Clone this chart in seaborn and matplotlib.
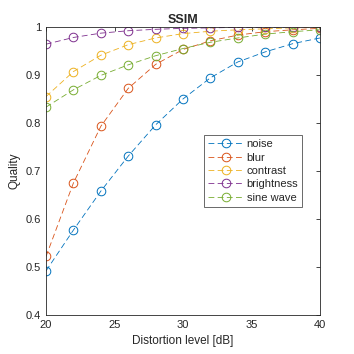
import numpy as np
import pandas as pd
import seaborn as sns
import matplotlib.pyplot as plt

levels = [20, 22, 24, 26, 28, 30, 32, 34, 36, 38, 40]
noise = [0.492, 0.577, 0.658, 0.731, 0.796, 0.850, 0.894, 0.927, 0.948, 0.965, 0.977]
blur = [0.522, 0.675, 0.793, 0.872, 0.922, 0.953, 0.971, 0.983, 0.990, 0.994, 0.997]
contrast = [0.855, 0.907, 0.941, 0.963, 0.977, 0.986, 0.991, 0.994, 0.996, 0.998, 0.999]
brightness = [0.964, 0.978, 0.987, 0.992, 0.995, 0.997, 0.998, 0.999, 0.999, 1.000, 1.000]
sine_wave = [0.833, 0.869, 0.899, 0.921, 0.940, 0.955, 0.968, 0.977, 0.985, 0.990, 0.994]

names = ['noise', 'blur', 'contrast', 'brightness', 'sine wave']
colors = ['#0072BD', '#D95319', '#EDB120', '#7E2F8E', '#77AC30']

rows = []
for name, vals in zip(names, [noise, blur, contrast, brightness, sine_wave]):
    for x, y in zip(levels, vals):
        rows.append({'level': x, 'quality': y, 'type': name})
df = pd.DataFrame(rows)

sns.set_style('white')
plt.rcParams['font.family'] = ['Liberation Sans', 'DejaVu Sans']

fig = plt.figure(figsize=(3.54, 3.54), dpi=100)
ax = fig.add_axes([0.130, 0.110, 0.774, 0.814])

sns.lineplot(
    data=df, x='level', y='quality', hue='type', hue_order=names,
    palette=colors, marker='o', markersize=6.2, markerfacecolor='none',
    markeredgewidth=0.7, linewidth=0.6, dashes=False, ax=ax,
)
for line in ax.lines:
    line.set_linestyle((0, (7, 4)))
    line.set_markeredgecolor(line.get_color())

ax.set_xlim(20, 40)
ax.set_ylim(0.4, 1)
ax.set_xticks([20, 25, 30, 35, 40])
ax.set_yticks([0.4, 0.5, 0.6, 0.7, 0.8, 0.9, 1])
ax.set_yticklabels(['0.4', '0.5', '0.6', '0.7', '0.8', '0.9', '1'])
ax.tick_params(direction='in', length=3, width=0.6, labelsize=8, top=True, right=True,
               colors='#262626')
for s in ax.spines.values():
    s.set_linewidth(0.6)
    s.set_color('#262626')
ax.set_xlabel('Distortion level [dB]', fontsize=8.5, color='#262626')
ax.set_ylabel('Quality', fontsize=8.5, color='#262626')
ax.set_title('SSIM', fontsize=9, fontweight='bold', pad=3)

leg = ax.legend(loc='center right', bbox_to_anchor=(0.955, 0.50), fontsize=8,
                handlelength=3.2, handletextpad=0.3, borderpad=0.35, labelspacing=0.3,
                frameon=True, fancybox=False, edgecolor='#262626')
leg.get_frame().set_linewidth(0.6)

fig.savefig('out.png', dpi=100)
